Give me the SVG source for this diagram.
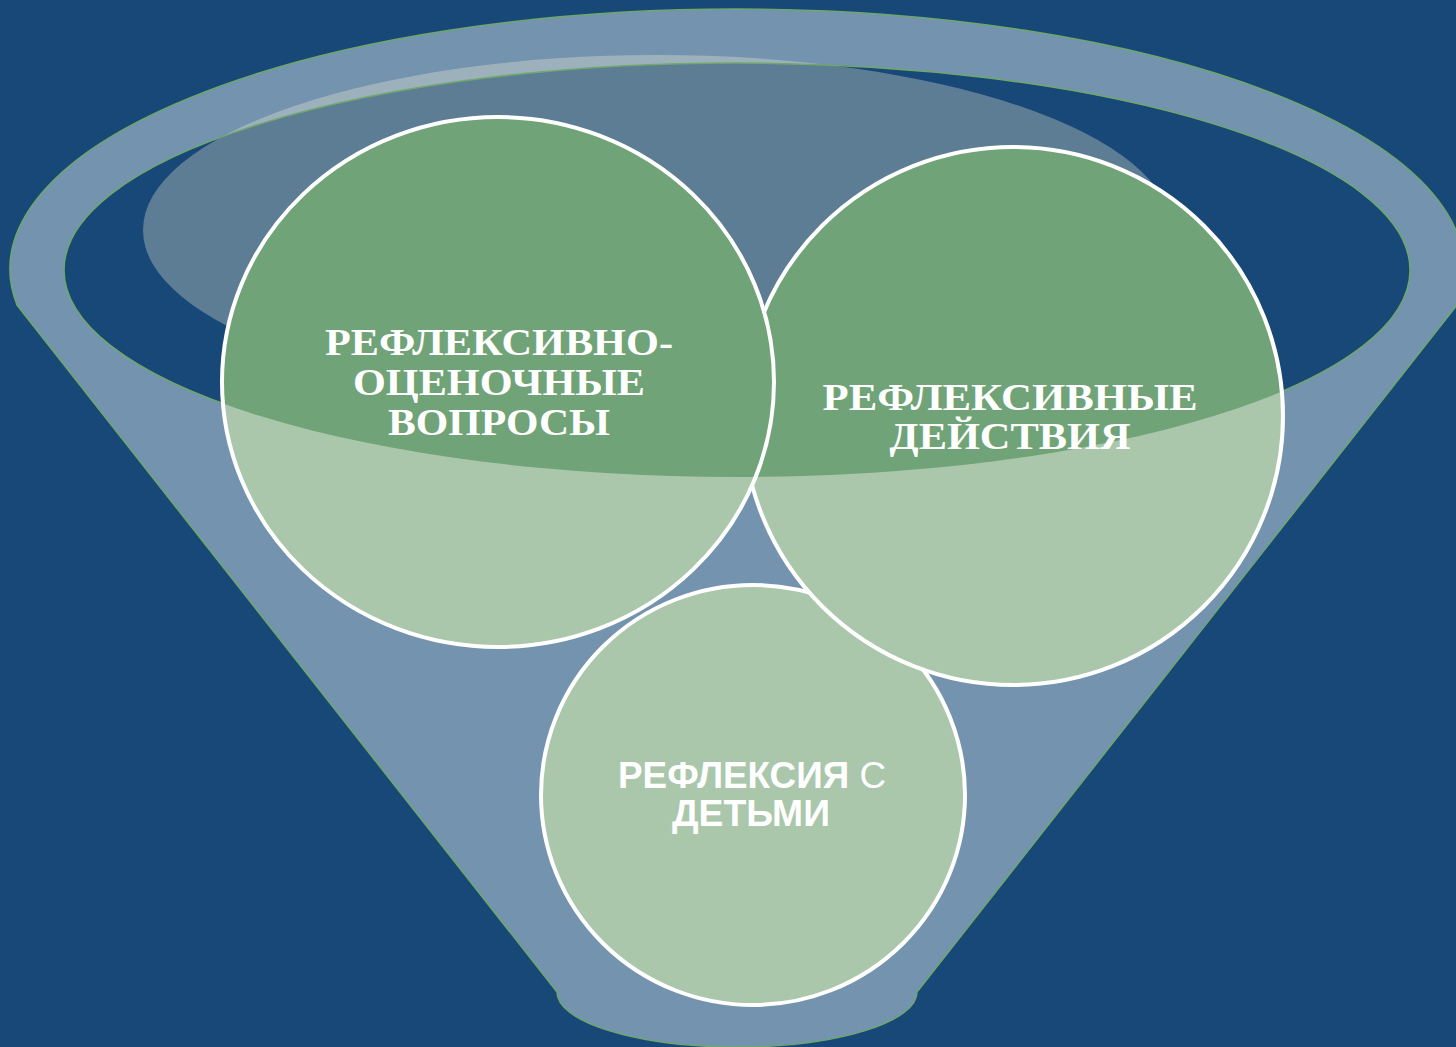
<svg xmlns="http://www.w3.org/2000/svg" width="1456" height="1047" viewBox="0 0 1456 1047">
  <defs>
    <clipPath id="innerClip">
      <ellipse cx="737" cy="270" rx="673" ry="207"/>
    </clipPath>
    <style>
      .bg { fill: #174878; }
      .funnel { fill: #7393AF; stroke: #6EA86B; stroke-width: 1.5; }
      .inner { fill: #174878; }
      .innerLine { fill: none; stroke: #6EA86B; stroke-width: 1.5; }
      .highlight { fill: #FFF9DC; fill-opacity: 0.3; }
      .circ { fill: #AAC7AC; }
      .circDark { fill: #70A377; }
      .circLine { fill: none; stroke: #FFFFFF; stroke-width: 4; }
      .serif { font-family: "Liberation Serif", "Times New Roman", serif; font-weight: bold; font-size: 38px; fill: #FFFFFF; text-anchor: middle; }
      .sans { font-family: "Liberation Sans", Arial, sans-serif; font-size: 36px; fill: #FFFFFF; text-anchor: middle; }
    </style>
  </defs>
  <rect class="bg" x="0" y="0" width="1456" height="1047"/>
  <g id="funnel">
    <path class="funnel" d="M 17 305 A 727 260 0 1 1 1457 305 L 917 992 A 180 55 0 0 1 557 992 Z"/>
    <ellipse class="inner" cx="737" cy="270" rx="673" ry="207"/>
    <ellipse class="highlight" cx="657" cy="230" rx="514" ry="175"/>
    <ellipse class="innerLine" cx="737" cy="270" rx="673" ry="207"/>
  </g>
  <g id="connectors"></g>
  <g id="node-children">
    <ellipse class="circ" cx="753" cy="795" rx="212" ry="210"/>
    <ellipse class="circLine" cx="753" cy="795" rx="212" ry="210"/>
    <text class="sans" x="752" y="788" textLength="268" lengthAdjust="spacingAndGlyphs"><tspan font-weight="bold">РЕФЛЕКСИЯ</tspan> С</text>
    <text class="sans" x="751" y="826" font-weight="bold" textLength="158" lengthAdjust="spacingAndGlyphs">ДЕТЬМИ</text>
  </g>
  <g id="node-actions">
    <ellipse class="circ" cx="1013" cy="416" rx="270" ry="269"/>
    <ellipse class="circDark" cx="1013" cy="416" rx="270" ry="269" clip-path="url(#innerClip)"/>
    <ellipse class="circLine" cx="1013" cy="416" rx="270" ry="269"/>
    <text class="serif" x="1010" y="410" textLength="375" lengthAdjust="spacingAndGlyphs">РЕФЛЕКСИВНЫЕ</text>
    <text class="serif" x="1010" y="449" textLength="241" lengthAdjust="spacingAndGlyphs">ДЕЙСТВИЯ</text>
  </g>
  <g id="node-questions">
    <ellipse class="circ" cx="498" cy="382" rx="276" ry="265"/>
    <ellipse class="circDark" cx="498" cy="382" rx="276" ry="265" clip-path="url(#innerClip)"/>
    <ellipse class="circLine" cx="498" cy="382" rx="276" ry="265"/>
    <text class="serif" x="499" y="355" textLength="348" lengthAdjust="spacingAndGlyphs">РЕФЛЕКСИВНО-</text>
    <text class="serif" x="499" y="395" textLength="292" lengthAdjust="spacingAndGlyphs">ОЦЕНОЧНЫЕ</text>
    <text class="serif" x="499" y="435" textLength="222" lengthAdjust="spacingAndGlyphs">ВОПРОСЫ</text>
  </g>
</svg>
